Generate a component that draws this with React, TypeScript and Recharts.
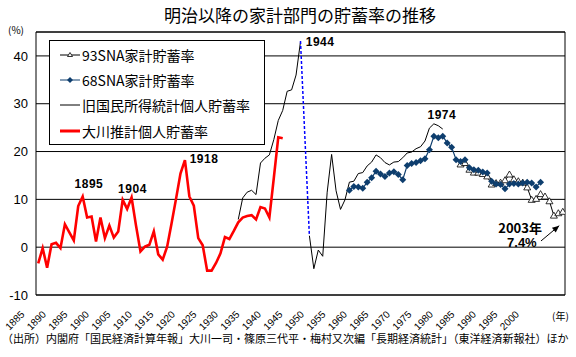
import React from "react";
import {
  CartesianGrid,
  ComposedChart,
  Legend,
  Line,
  ReferenceDot,
  ReferenceLine,
  XAxis,
  YAxis,
} from "recharts";

// 大川推計個人貯蓄率 (1885-1940)
const ohkawaStart = 1885;
const ohkawa = [
  -3.4, -0.2, -4.3, 0.6, 0.9, -0.2, 4.8, 3.1, 1.4, 8.6,
  10.6, 6.2, 6.4, 1.2, 6.2, 1.9, 4.5, 2.0, 3.3, 9.9,
  8.0, 10.4, 4.5, -0.9, 0.1, 0.5, 3.3, -1.5, -2.6, 0.1,
  5.0, 10.1, 15.4, 18.2, 10.6, 8.7, 1.9, 0.4, -4.9, -4.9,
  -3.3, -1.3, 2.1, 1.7, 3.4, 5.2, 6.2, 6.5, 6.7, 5.8,
  8.4, 8.1, 6.2, 14.5, 23.0, 22.8,
];

// 旧国民所得統計個人貯蓄率 (戦前 1930-1944, 戦後 1946-1976)
const oldPreStart = 1930;
const oldPre = [
  5.8, 10.3, 11.5, 11.9, 11.0, 17.6, 18.6, 19.3, 22.5, 26.5,
  28.6, 32.6, 32.9, 36.0, 43.0,
];
const oldPostStart = 1946;
const oldPost = [
  2.4, -4.5, -0.6, -1.9, 11.5, 19.4, 11.8, 7.9, 9.9, 13.6,
  13.8, 15.4, 15.6, 17.0, 17.8, 19.3, 18.7, 17.7, 17.2, 17.8,
  17.9, 18.7, 19.7, 19.9, 20.6, 21.0, 22.2, 24.9, 25.8, 25.4,
  24.7,
];

// 68SNA家計貯蓄率 (1955-1998)
const sna68Start = 1955;
const sna68 = [
  11.9, 12.7, 12.6, 12.3, 13.6, 14.5, 15.9, 15.3, 14.8, 15.5,
  15.8, 15.2, 14.1, 17.1, 17.5, 17.7, 18.1, 18.5, 20.4, 23.2,
  22.9, 23.2, 21.8, 20.9, 18.3, 17.9, 18.3, 16.6, 16.2, 16.1,
  15.7, 15.5, 13.8, 13.2, 13.1, 12.2, 13.2, 13.3, 13.2, 13.4,
  13.6, 13.4, 12.6, 13.6,
];

// 93SNA家計貯蓄率 (1980-2003)
const sna93Start = 1980;
const sna93 = [
  17.3, 17.6, 16.2, 15.6, 15.6, 15.3, 14.8, 13.1, 13.4, 13.5,
  14.0, 15.2, 14.2, 13.8, 13.5, 12.5, 9.9, 10.1, 11.1, 10.6,
  9.6, 6.6, 7.1, 7.4,
];

// 1944 -> 1946 の点線
const bridgeYears = [1944, 1946];
const bridgeValues = [43.1, 2.4];

const yTicks = [-10, 0, 10, 20, 30, 40];
const yearLabels = [
  1885, 1890, 1895, 1900, 1905, 1910, 1915, 1920, 1925, 1930, 1935, 1940,
  1945, 1950, 1955, 1960, 1965, 1970, 1975, 1980, 1985, 1990, 1995, 2000,
];

const notes = [
  { year: 1896.4, value: 13.3, text: "1895" },
  { year: 1906.2, value: 12.2, text: "1904" },
  { year: 1922.3, value: 18.5, text: "1918" },
  { year: 1948.4, value: 43.0, text: "1944" },
  { year: 1975.8, value: 27.7, text: "1974" },
];

const sna68Color = "#0E3E6E";
const jp = "'Noto Sans CJK JP', sans-serif";
const latin = "'Liberation Sans', Arial, sans-serif";

const pick = (arr: number[], start: number, yr: number) => {
  const i = yr - start;
  return i >= 0 && i < arr.length ? arr[i] : null;
};

const data: any[] = [];
for (let yr = 1885; yr <= 2003; yr++) {
  const bi = bridgeYears.indexOf(yr);
  data.push({
    year: yr,
    ohkawa: pick(ohkawa, ohkawaStart, yr),
    oldNi: pick(oldPre, oldPreStart, yr) ?? pick(oldPost, oldPostStart, yr),
    sna68: pick(sna68, sna68Start, yr),
    sna93: pick(sna93, sna93Start, yr),
    bridge: bi >= 0 ? bridgeValues[bi] : null,
  });
}

const renderDiamond = (p: any) => {
  const { cx, cy, index } = p;
  if (cx == null || cy == null || p.value == null) return <g key={`d${index}`} />;
  return (
    <path
      key={`d${index}`}
      d={`M${cx},${cy - 3.5}L${cx + 3.5},${cy}L${cx},${cy + 3.5}L${cx - 3.5},${cy}Z`}
      fill={sna68Color}
    />
  );
};

const renderTriangle = (p: any) => {
  const { cx, cy, index } = p;
  if (cx == null || cy == null || p.value == null) return <g key={`t${index}`} />;
  return (
    <path
      key={`t${index}`}
      d={`M${cx},${cy - 3.5}L${cx + 3.5},${cy + 2.5}L${cx - 3.5},${cy + 2.5}Z`}
      fill="#fff"
      stroke="#000"
      strokeWidth={0.8}
    />
  );
};

const ArrowHead = (p: any) => {
  const { cx, cy } = p;
  const ux = 0.768;
  const uy = -0.64;
  const bx = cx - ux * 7;
  const by = cy - uy * 7;
  const nx = -uy * 3;
  const ny = ux * 3;
  return <path d={`M${cx},${cy}L${bx + nx},${by + ny}L${bx - nx},${by - ny}Z`} fill="#000" />;
};

const YearTick = (props: any) => {
  const { x, y, payload } = props;
  return (
    <text
      transform={`translate(${x - 13},${y + 12}) rotate(-45)`}
      textAnchor="end"
      fontSize={10}
      fontFamily={latin}
      fill="#000"
    >
      {payload.value}
    </text>
  );
};

const legendOrder = ["93SNA家計貯蓄率", "68SNA家計貯蓄率", "旧国民所得統計個人貯蓄率", "大川推計個人貯蓄率"];

const LegendBox = (props: any) => {
  const items = (props.payload || [])
    .filter((e: any) => legendOrder.includes(e.value))
    .sort((a: any, b: any) => legendOrder.indexOf(a.value) - legendOrder.indexOf(b.value));
  return (
    <div style={{ paddingTop: 1 }}>
      {items.map((e: any) => (
        <div key={e.value} style={{ height: 25.3, display: "flex", alignItems: "center" }}>
          <svg width={20} height={10} style={{ marginLeft: 10, marginRight: 2 }}>
            <line
              x1={0}
              y1={5}
              x2={20}
              y2={5}
              stroke={e.color}
              strokeWidth={e.value === "大川推計個人貯蓄率" ? 3 : 1}
            />
            {e.value === "68SNA家計貯蓄率" && <path d="M10,2L13,5L10,8L7,5Z" fill={sna68Color} />}
            {e.value === "93SNA家計貯蓄率" && (
              <path d="M10,2.5L12.5,6.5L7.5,6.5Z" fill="#fff" stroke="#000" strokeWidth={0.8} />
            )}
          </svg>
          <span style={{ fontFamily: jp, fontSize: 14, color: "#000", whiteSpace: "nowrap" }}>{e.value}</span>
        </div>
      ))}
    </div>
  );
};

export default function App() {
  return (
    <div style={{ position: "absolute", left: 0, top: 0, width: 576, height: 357, background: "#fff" }}>
      <div
        style={{
          position: "absolute",
          left: 150,
          top: 4,
          width: 300,
          textAlign: "center",
          fontFamily: jp,
          fontSize: 17,
          lineHeight: "22px",
          color: "#000",
        }}
      >
        明治以降の家計部門の貯蓄率の推移
      </div>
      <div style={{ position: "absolute", left: 8, top: 24, fontFamily: jp, fontSize: 10, lineHeight: "12px" }}>
        (%)
      </div>
      <div style={{ position: "absolute", left: 552, top: 310, fontFamily: jp, fontSize: 10, lineHeight: "12px" }}>
        (年)
      </div>
      <div
        style={{
          position: "absolute",
          left: 2,
          top: 332,
          fontFamily: jp,
          fontSize: 11,
          lineHeight: "13px",
          whiteSpace: "nowrap",
          color: "#000",
        }}
      >
        （出所）内閣府「国民経済計算年報」大川一司・篠原三代平・梅村又次編「長期経済統計」（東洋経済新報社）ほか
      </div>
      <div style={{ position: "absolute", left: 0, top: 0 }}>
        <ComposedChart width={576} height={357} data={data} margin={{ top: 32, right: 11, bottom: 0, left: 0 }}>
          <CartesianGrid vertical={false} stroke="#000" strokeWidth={1} />
          <XAxis dataKey="year" type="number" domain={[1884.5, 2003.5]} allowDataOverflow hide height={0} />
          <XAxis
            xAxisId="lab"
            dataKey="year"
            type="number"
            domain={[1884.5, 2007.5]}
            allowDataOverflow
            ticks={yearLabels}
            interval={0}
            height={62}
            tickLine={false}
            axisLine={{ stroke: "#000" }}
            tick={<YearTick />}
          />
          <YAxis
            type="number"
            domain={[-10, 45]}
            allowDataOverflow
            ticks={yTicks}
            interval={0}
            width={36}
            tickLine={false}
            axisLine={{ stroke: "#000" }}
            tick={{ fill: "#000", fontSize: 13, fontFamily: latin }}
          />
          <ReferenceLine y={45} stroke="#000" ifOverflow="visible" />
          <ReferenceLine x={2003.5} stroke="#000" ifOverflow="visible" />
          <Legend
            layout="vertical"
            align="center"
            verticalAlign="middle"
            content={<LegendBox />}
            wrapperStyle={{
              left: 49,
              top: 40,
              width: 216,
              height: 105,
              border: "1px solid #000",
              background: "#fff",
              boxSizing: "border-box",
            }}
          />
          {/* invisible carrier so the label axis has a series */}
          <Line
            xAxisId="lab"
            dataKey="bridge"
            stroke="none"
            dot={false}
            activeDot={false}
            legendType="none"
            isAnimationActive={false}
          />
          <Line
            dataKey="oldNi"
            name="旧国民所得統計個人貯蓄率"
            stroke="#000"
            strokeWidth={1}
            dot={false}
            isAnimationActive={false}
          />
          <Line
            dataKey="ohkawa"
            name="大川推計個人貯蓄率"
            stroke="#FF0000"
            strokeWidth={2.6}
            dot={false}
            isAnimationActive={false}
          />
          <Line
            dataKey="sna93"
            name="93SNA家計貯蓄率"
            stroke="#000"
            strokeWidth={1}
            dot={renderTriangle}
            isAnimationActive={false}
          />
          <Line
            dataKey="sna68"
            name="68SNA家計貯蓄率"
            stroke={sna68Color}
            strokeWidth={1.2}
            dot={renderDiamond}
            isAnimationActive={false}
          />
          <Line
            dataKey="bridge"
            stroke="#0000FF"
            strokeWidth={1.5}
            strokeDasharray="3 2"
            connectNulls
            dot={false}
            legendType="none"
            isAnimationActive={false}
          />
          {notes.map((n) => (
            <ReferenceDot
              key={n.text}
              x={n.year}
              y={n.value}
              r={0}
              fill="none"
              stroke="none"
              ifOverflow="visible"
              label={{
                value: n.text,
                position: "center",
                fill: "#000",
                fontSize: 12,
                fontWeight: "bold",
                fontFamily: latin,
                letterSpacing: 0.5,
              }}
            />
          ))}
          <ReferenceDot
            x={1993.4}
            y={4.0}
            r={0}
            fill="none"
            stroke="none"
            ifOverflow="visible"
            label={{ value: "2003年", position: "center", fill: "#000", fontSize: 13, fontWeight: "bold", fontFamily: jp }}
          />
          <ReferenceDot
            x={1993.8}
            y={0.9}
            r={0}
            fill="none"
            stroke="none"
            ifOverflow="visible"
            label={{ value: "7.4%", position: "center", fill: "#000", fontSize: 13, fontWeight: "bold", fontFamily: latin }}
          />
          <ReferenceLine
            segment={[
              { x: 1998.1, y: 1.3 },
              { x: 2002.2, y: 4.5 },
            ]}
            stroke="#000"
            ifOverflow="visible"
          />
          <ReferenceDot x={2002.2} y={4.5} ifOverflow="visible" shape={<ArrowHead />} />
        </ComposedChart>
      </div>
    </div>
  );
}
